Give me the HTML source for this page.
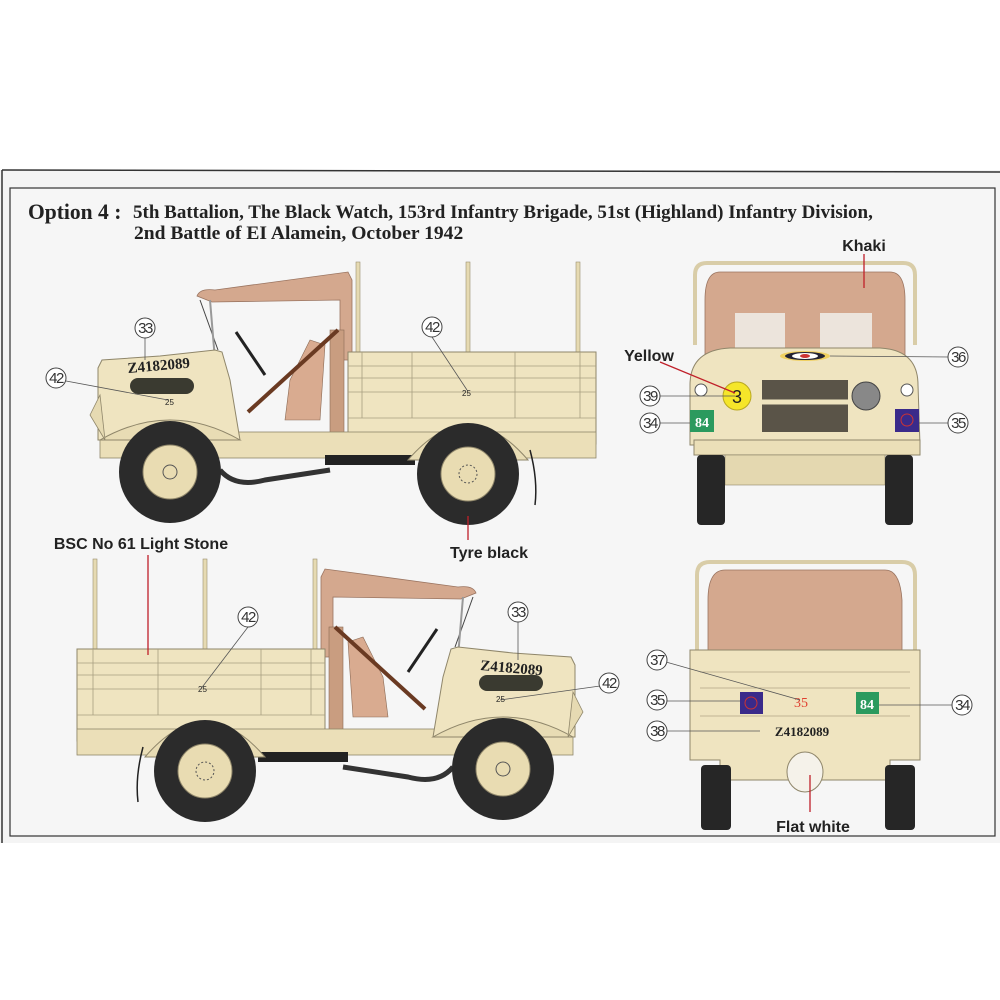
<!DOCTYPE html>
<html><head><meta charset="utf-8"><style>
html,body{margin:0;padding:0;background:#fff;}
svg{display:block;}
.t{font-family:"Liberation Sans",sans-serif;font-weight:bold;fill:#222;}
.s{font-family:"Liberation Serif",serif;font-weight:bold;fill:#222;}
.c{fill:#fff;stroke:#444;stroke-width:1;}
.cn{font-family:"Liberation Sans",sans-serif;font-size:15px;fill:#333;text-anchor:middle;letter-spacing:-1.5px;}
</style></head><body>
<svg width="1000" height="1000" viewBox="0 0 1000 1000" xmlns="http://www.w3.org/2000/svg">
<defs>
<g id="side">
  <rect x="356" y="262" width="4" height="95" fill="#e6dab2" stroke="#9a8f70" stroke-width="0.6"/>
  <rect x="466" y="262" width="4" height="95" fill="#e6dab2" stroke="#9a8f70" stroke-width="0.6"/>
  <rect x="576" y="262" width="4" height="95" fill="#e6dab2" stroke="#9a8f70" stroke-width="0.6"/>
  <path d="M197 296 Q200 288 215 290 L348 272 L352 280 L352 360 L340 360 L340 300 L212 302 Z" fill="#d4a88e" stroke="#9a7460" stroke-width="0.8"/>
  <line x1="200" y1="300" x2="218" y2="350" stroke="#444" stroke-width="1"/>
  <rect x="348" y="352" width="248" height="92" fill="#efe4c0" stroke="#8f866a" stroke-width="1"/>
  <g stroke="#a89e80" stroke-width="0.8">
    <line x1="348" y1="366" x2="596" y2="366"/><line x1="348" y1="378" x2="596" y2="378"/>
    <line x1="348" y1="392" x2="596" y2="392"/><line x1="348" y1="418" x2="596" y2="418"/>
    <line x1="362" y1="352" x2="362" y2="418"/><line x1="412" y1="352" x2="412" y2="418"/>
    <line x1="515" y1="352" x2="515" y2="418"/><line x1="580" y1="352" x2="580" y2="418"/>
  </g>
  <rect x="330" y="330" width="14" height="110" fill="#c99d80" stroke="#8a6a55" stroke-width="0.6"/>
  <path d="M290 380 L310 340 L325 345 L320 420 L285 420 Z" fill="#d9ab90" stroke="#8a6a55" stroke-width="0.6"/>
  <line x1="248" y1="412" x2="338" y2="330" stroke="#6a3a22" stroke-width="4"/>
  <line x1="236" y1="332" x2="265" y2="375" stroke="#222" stroke-width="3"/>
  <line x1="210" y1="300" x2="215" y2="360" stroke="#999" stroke-width="2"/>
  <rect x="100" y="432" width="496" height="26" fill="#ebdfb8" stroke="#8f866a" stroke-width="0.8"/>
  <rect x="325" y="455" width="90" height="10" fill="#222"/>
  <path d="M220 470 Q235 488 265 480 L330 470" stroke="#333" stroke-width="5" fill="none"/>
  <path d="M98 368 L102 360 L160 356 L215 350 L222 352 L230 380 L240 440 L98 440 Z" fill="#efe4c0" stroke="#8f866a" stroke-width="1"/>
  <rect x="130" y="378" width="64" height="16" rx="8" fill="#3a3a30"/>
  <path d="M100 440 Q170 400 240 440 Z" fill="#e8dcb4" stroke="#8f866a" stroke-width="1"/>
  <path d="M90 415 L100 395 L105 440 Z" fill="#e6dab2" stroke="#8f866a" stroke-width="0.8"/>
  <path d="M408 460 Q468 390 528 460 Z" fill="#e8dcb4" stroke="#8f866a" stroke-width="1"/>
  <path d="M530 450 Q538 480 535 505" stroke="#222" stroke-width="1.5" fill="none"/>
  <circle cx="170" cy="472" r="51" fill="#2b2b2b"/>
  <circle cx="170" cy="472" r="27" fill="#e9dcb2" stroke="#8f866a"/>
  <circle cx="170" cy="472" r="7" fill="none" stroke="#555"/>
  <circle cx="468" cy="474" r="51" fill="#2b2b2b"/>
  <circle cx="468" cy="474" r="27" fill="#e9dcb2" stroke="#8f866a"/>
  <circle cx="468" cy="474" r="9" fill="none" stroke="#555" stroke-dasharray="2 2"/>
</g>
</defs>

<rect x="0" y="170" width="1000" height="673" fill="#f4f4f4"/>
<line x1="2" y1="170" x2="1000" y2="172" stroke="#333" stroke-width="1.5"/>
<line x1="2" y1="170" x2="2" y2="843" stroke="#333" stroke-width="1.5"/>
<rect x="10" y="188" width="985" height="648" fill="#f6f6f6" stroke="#333" stroke-width="1.2"/>

<text x="28" y="219" class="s" font-size="22" transform="translate(28 0) scale(0.98 1) translate(-28 0)">Option 4 :</text>
<text x="133" y="218" class="s" font-size="19" transform="translate(133 0) scale(1.0 1) translate(-133 0)">5th Battalion, The Black Watch, 153rd Infantry Brigade, 51st (Highland) Infantry Division,</text>
<text x="134" y="239" class="s" font-size="19" transform="translate(134 0) scale(1.03 1) translate(-134 0)">2nd Battle of EI Alamein, October 1942</text>

<use href="#side"/>
<text x="128" y="373" font-family="Liberation Serif,serif" font-weight="bold" font-size="15" fill="#222" transform="rotate(-5 128 373)">Z4182089</text>
<text x="165" y="405" font-family="Liberation Sans,sans-serif" font-size="8" fill="#222">25</text>
<text x="462" y="396" font-family="Liberation Sans,sans-serif" font-size="8" fill="#222">25</text>

<use href="#side" transform="translate(673 297) scale(-1 1)"/>
<text x="480" y="670" font-family="Liberation Serif,serif" font-weight="bold" font-size="15" fill="#222" transform="rotate(5 480 670)">Z4182089</text>
<text x="496" y="702" font-family="Liberation Sans,sans-serif" font-size="8" fill="#222">25</text>
<text x="198" y="692" font-family="Liberation Sans,sans-serif" font-size="8" fill="#222">25</text>

<path d="M695 345 L695 275 Q695 263 707 263 L903 263 Q915 263 915 275 L915 345" fill="none" stroke="#d9cda8" stroke-width="4"/>
<path d="M705 300 Q705 272 720 272 L890 272 Q905 272 905 300 L905 360 L705 360 Z" fill="#d4a88e" stroke="#9a7460" stroke-width="0.8"/>
<rect x="735" y="313" width="50" height="35" fill="#ece4dc"/>
<rect x="820" y="313" width="52" height="35" fill="#ece4dc"/>
<path d="M690 385 Q690 350 730 348 L880 348 Q918 350 918 385 L920 445 L690 445 Z" fill="#efe4c0" stroke="#8f866a"/>
<rect x="762" y="380" width="86" height="52" fill="#5a5448"/>
<line x1="745" y1="402" x2="865" y2="402" stroke="#efe4c0" stroke-width="5"/>
<ellipse cx="805" cy="356" rx="25" ry="5" fill="#f0d060"/><ellipse cx="805" cy="356" rx="20" ry="4" fill="#223"/><ellipse cx="805" cy="356" rx="13" ry="3" fill="#fff"/><ellipse cx="805" cy="356" rx="5" ry="2" fill="#c33"/>
<circle cx="737" cy="396" r="14" fill="#f5e62a" stroke="#b9a820"/>
<text x="737" y="403" text-anchor="middle" font-family="Liberation Sans,sans-serif" font-size="18" fill="#222">3</text>
<circle cx="866" cy="396" r="14" fill="#888" stroke="#444"/>
<circle cx="701" cy="390" r="6" fill="#fff" stroke="#555"/><circle cx="907" cy="390" r="6" fill="#fff" stroke="#555"/>
<rect x="690" y="410" width="24" height="22" fill="#2b9a5e"/>
<text x="702" y="427" text-anchor="middle" font-family="Liberation Serif,serif" font-weight="bold" font-size="14" fill="#fff">84</text>
<rect x="895" y="409" width="24" height="23" fill="#3a2a8a"/><circle cx="907" cy="420" r="6" fill="none" stroke="#c33"/>
<rect x="694" y="440" width="226" height="15" fill="#ebdfb8" stroke="#8f866a"/>
<rect x="725" y="455" width="160" height="30" fill="#e4d8b0" stroke="#8f866a" stroke-width="0.6"/>
<rect x="697" y="455" width="28" height="70" rx="4" fill="#262626"/>
<rect x="885" y="455" width="28" height="70" rx="4" fill="#262626"/>

<path d="M697 660 L697 575 Q697 562 710 562 L902 562 Q915 562 915 575 L915 660" fill="none" stroke="#d9cda8" stroke-width="4"/>
<path d="M708 600 Q708 570 725 570 L885 570 Q900 570 902 600 L902 650 L708 650 Z" fill="#d4a88e" stroke="#9a7460" stroke-width="0.8"/>
<path d="M690 650 L920 650 L920 760 L890 760 L890 780 L720 780 L720 760 L690 760 Z" fill="#efe4c0" stroke="#8f866a"/>
<g stroke="#b0a585" stroke-width="0.7"><line x1="700" y1="672" x2="910" y2="672"/><line x1="700" y1="688" x2="910" y2="688"/><line x1="700" y1="716" x2="910" y2="716"/></g>
<rect x="740" y="692" width="23" height="22" fill="#3a2a8a"/><circle cx="751" cy="703" r="6" fill="none" stroke="#c33"/>
<rect x="856" y="692" width="23" height="22" fill="#2b9a5e"/>
<text x="867" y="709" text-anchor="middle" font-family="Liberation Serif,serif" font-weight="bold" font-size="14" fill="#fff">84</text>
<text x="801" y="707" text-anchor="middle" font-family="Liberation Serif,serif" font-size="14" fill="#e04030">35</text>
<text x="802" y="736" text-anchor="middle" font-family="Liberation Serif,serif" font-weight="bold" font-size="13" fill="#222">Z4182089</text>
<ellipse cx="805" cy="772" rx="18" ry="20" fill="#f5f2ea" stroke="#8f866a"/>
<rect x="701" y="765" width="30" height="65" rx="4" fill="#262626"/>
<rect x="885" y="765" width="30" height="65" rx="4" fill="#262626"/>

<g stroke="#c0202a" stroke-width="1.3">
  <line x1="864" y1="254" x2="864" y2="288"/>
  <line x1="660" y1="362" x2="735" y2="393"/>
  <line x1="468" y1="516" x2="468" y2="540"/>
  <line x1="148" y1="555" x2="148" y2="655"/>
  <line x1="810" y1="775" x2="810" y2="812"/>
</g>
<text x="864" y="251" text-anchor="middle" class="t" font-size="16">Khaki</text>
<text x="649" y="361" text-anchor="middle" class="t" font-size="16">Yellow</text>
<text x="489" y="558" text-anchor="middle" class="t" font-size="16">Tyre black</text>
<text x="141" y="549" text-anchor="middle" class="t" font-size="16">BSC No 61 Light Stone</text>
<text x="813" y="832" text-anchor="middle" class="t" font-size="16">Flat white</text>

<g stroke="#555" stroke-width="0.8">
  <line x1="145" y1="338" x2="145" y2="360"/>
  <line x1="66" y1="381" x2="168" y2="400"/>
  <line x1="432" y1="337" x2="467" y2="390"/>
  <line x1="659" y1="396" x2="735" y2="396"/>
  <line x1="659" y1="423" x2="690" y2="423"/>
  <line x1="949" y1="357" x2="830" y2="356"/>
  <line x1="949" y1="423" x2="919" y2="423"/>
  <line x1="248" y1="627" x2="200" y2="690"/>
  <line x1="518" y1="622" x2="518" y2="660"/>
  <line x1="600" y1="686" x2="500" y2="700"/>
  <line x1="666" y1="662" x2="800" y2="700"/>
  <line x1="666" y1="701" x2="740" y2="701"/>
  <line x1="666" y1="731" x2="760" y2="731"/>
  <line x1="953" y1="705" x2="879" y2="705"/>
</g>
<g>
  <circle cx="145" cy="328" r="10" class="c"/><text x="145" y="333" class="cn">33</text>
  <circle cx="56" cy="378" r="10" class="c"/><text x="56" y="383" class="cn">42</text>
  <circle cx="432" cy="327" r="10" class="c"/><text x="432" y="332" class="cn">42</text>
  <circle cx="650" cy="396" r="10" class="c"/><text x="650" y="401" class="cn">39</text>
  <circle cx="650" cy="423" r="10" class="c"/><text x="650" y="428" class="cn">34</text>
  <circle cx="958" cy="357" r="10" class="c"/><text x="958" y="362" class="cn">36</text>
  <circle cx="958" cy="423" r="10" class="c"/><text x="958" y="428" class="cn">35</text>
  <circle cx="248" cy="617" r="10" class="c"/><text x="248" y="622" class="cn">42</text>
  <circle cx="518" cy="612" r="10" class="c"/><text x="518" y="617" class="cn">33</text>
  <circle cx="609" cy="683" r="10" class="c"/><text x="609" y="688" class="cn">42</text>
  <circle cx="657" cy="660" r="10" class="c"/><text x="657" y="665" class="cn">37</text>
  <circle cx="657" cy="700" r="10" class="c"/><text x="657" y="705" class="cn">35</text>
  <circle cx="657" cy="731" r="10" class="c"/><text x="657" y="736" class="cn">38</text>
  <circle cx="962" cy="705" r="10" class="c"/><text x="962" y="710" class="cn">34</text>
</g>
</svg>
</body></html>
